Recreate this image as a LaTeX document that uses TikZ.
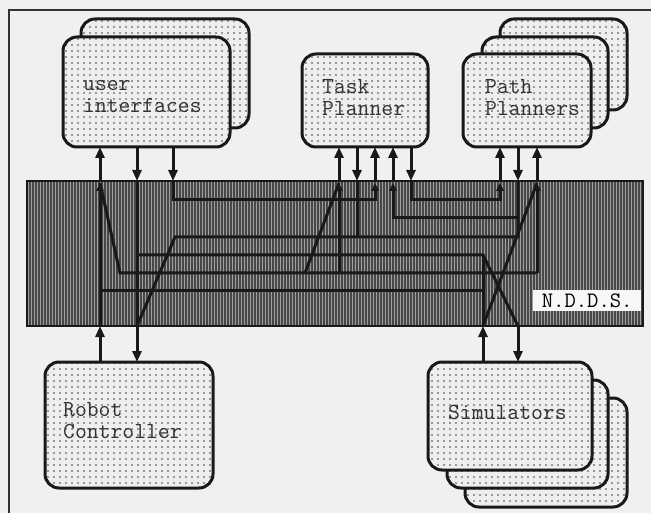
\documentclass[tikz,border=0pt]{standalone}
\usetikzlibrary{arrows.meta,patterns.meta,calc}
\definecolor{bg}{HTML}{F0F0F0}
\definecolor{boxfill}{HTML}{EEEEEE}
\definecolor{bandfill}{HTML}{A0A0A0}
\definecolor{bandline}{HTML}{484848}
\begin{document}
\begin{tikzpicture}[x=1pt,y=-1pt,
  mod/.style={preaction={fill=boxfill}, pattern={Dots[distance=6pt,radius=0.8pt]}, pattern color=black!75,
     draw=black!90, line width=3pt, rounded corners=14pt, anchor=north west, inner sep=0pt, outer sep=0pt},
  lbl/.style={font=\ttfamily\fontsize{23}{22}\selectfont, align=left, anchor=west, inner sep=0pt, text=black!80},
  bandbox/.style={preaction={fill=bandfill}, pattern={Lines[angle=90,distance=3pt,line width=1.5pt]}, pattern color=bandline,
     draw=black!90, line width=2.5pt, anchor=north west, inner sep=0pt, outer sep=0pt},
  arr/.style={line width=3pt, draw=black!90, -{Triangle[length=11pt,width=9pt]}},
  wire/.style={line width=3pt, draw=black!90},
  tipin/.style={-{Triangle[length=8pt,width=7.5pt]}}]
\fill[bg] (0,0) rectangle (651,513);
\useasboundingbox (0,0) rectangle (651,513);
\draw[line width=1.5pt, black!80] (9,513) -- (9,10) -- (651,10);

% band
\node[bandbox, minimum width=616pt, minimum height=145pt] (ndds) at (27,181) {};

% modules
\node[mod, minimum width=168pt, minimum height=109pt] (uib) at (81,19) {};
\node[mod, minimum width=167pt, minimum height=110pt] (ui) at (63,37) {};
\node[mod, minimum width=126pt, minimum height=93pt] (tp) at (302,54) {};
\node[mod, minimum width=127pt, minimum height=91pt] (pp3) at (500,19) {};
\node[mod, minimum width=126pt, minimum height=91pt] (pp2) at (482,37) {};
\node[mod, minimum width=128pt, minimum height=93pt] (pp) at (463,54) {};
\node[mod, minimum width=168pt, minimum height=126pt] (rc) at (45,362) {};
\node[mod, minimum width=162pt, minimum height=109pt] (sim3) at (465,398) {};
\node[mod, minimum width=161pt, minimum height=108pt] (sim2) at (447,380) {};
\node[mod, minimum width=164pt, minimum height=108pt] (sim) at (428,362) {};

\node[lbl] (tui) at ($(ui.west)+(20,5)$) {user\\interfaces};
\node[lbl] (ttp) at ($(tp.west)+(20,-3)$) {Task\\Planner};
\node[lbl] (tpp) at ($(pp.west)+(22,-3)$) {Path\\Planners};
\node[lbl] (trc) at ($(rc.west)+(18,-4)$) {Robot\\Controller};
\node[lbl] (tsim) at ($(sim.west)+(20,-4)$) {Simulators};

\foreach \n in {100,137,173,339,357,375,393,411,483,500,518,537} \coordinate (x\n) at (\n,0);

% connectors between modules and band
\draw[arr] (x100 |- ndds.north) -- (x100 |- ui.south);
\draw[arr] (x137 |- ui.south) -- (x137 |- ndds.north);
\draw[arr] (x173 |- ui.south) -- (x173 |- ndds.north);
\draw[arr] (x339 |- ndds.north) -- (x339 |- tp.south);
\draw[arr] (x357 |- tp.south) -- (x357 |- ndds.north);
\draw[arr] (x375 |- ndds.north) -- (x375 |- tp.south);
\draw[arr] (x393 |- ndds.north) -- (x393 |- tp.south);
\draw[arr] (x411 |- tp.south) -- (x411 |- ndds.north);
\draw[arr] (x500 |- ndds.north) -- (x500 |- pp.south);
\draw[arr] (x518 |- pp.south) -- (x518 |- ndds.north);
\draw[arr] (x537 |- ndds.north) -- (x537 |- pp.south);
\draw[arr] (x100 |- rc.north) -- (x100 |- ndds.south);
\draw[arr] (x137 |- ndds.south) -- (x137 |- rc.north);
\draw[arr] (x483 |- sim.north) -- (x483 |- ndds.south);
\draw[arr] (x518 |- ndds.south) -- (x518 |- sim.north);

% routing inside the band
\draw[wire,tipin] (100,326) -- (100,183);
\draw[wire] (137,181) -- (137,326);
\draw[wire,tipin] (173,181) -- (173,200) -- (375,200) -- (375,183);
\draw[wire,tipin] (411,181) -- (411,200) -- (500,200) -- (500,183);
\draw[wire,tipin] (518,218) -- (393,218) -- (393,183);
\draw[wire] (518,181) -- (518,237) -- (175,237) -- (137,326);
\draw[wire] (357,181) -- (357,237);
\draw[wire] (137,255) -- (483,255) -- (518,326);
\draw[wire] (100,183) -- (120,273) -- (537,273);
\draw[wire,tipin] (537,273) -- (537,183);
\draw[wire,tipin] (339,273) -- (339,183);
\draw[wire] (305,273) -- (339,183);
\draw[wire] (100,291) -- (483,291);
\draw[wire] (483,255) -- (483,326);
\draw[wire] (483,326) -- (537,183);

\node[fill=white!97!black, minimum width=108pt, minimum height=21pt, anchor=north west, inner sep=0pt,
  font=\ttfamily\fontsize{22}{22}\selectfont] (lab) at (533,290) {N.D.D.S.};
\end{tikzpicture}
\end{document}
